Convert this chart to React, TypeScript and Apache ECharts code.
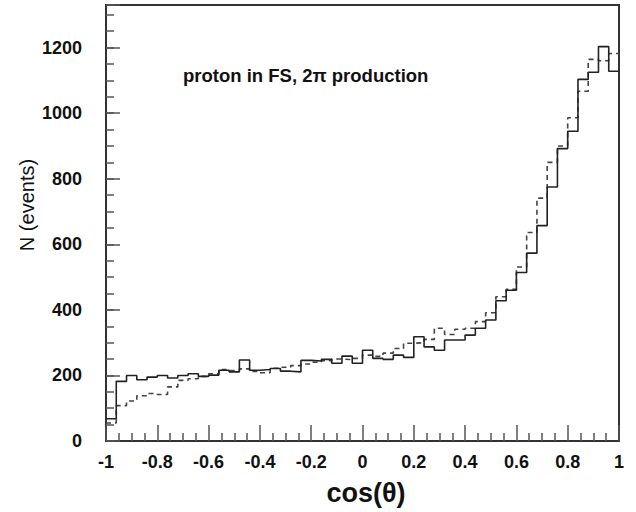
import React, { useEffect, useRef } from "react";
import * as echarts from "echarts";

const binEdges: number[] = Array.from({ length: 51 }, (_, i) => -1 + i * 0.04);

const solidCounts: number[] = [
  68, 182, 200, 187, 195, 200, 192, 200, 205, 197,
  201, 216, 211, 247, 216, 218, 221, 213, 211, 246,
  244, 249, 237, 259, 237, 277, 252, 249, 262, 255,
  318, 287, 277, 308, 308, 323, 344, 369, 428, 460,
  514, 573, 657, 775, 892, 945, 1103, 1125, 1203, 1128,
];

const dashedCounts: number[] = [
  55, 108, 122, 138, 145, 142, 165, 185, 190, 197,
  205, 218, 215, 220, 212, 208, 222, 225, 230, 235,
  240, 245, 250, 248, 252, 262, 258, 268, 282, 298,
  300, 310, 344, 325, 341, 344, 364, 391, 440, 463,
  531, 636, 741, 850, 900, 986, 1067, 1164, 1160, 1182,
];

const xTicks: number[] = [-1, -0.8, -0.6, -0.4, -0.2, 0, 0.2, 0.4, 0.6, 0.8, 1];
const yTicks: number[] = [0, 200, 400, 600, 800, 1000, 1200];

const annotation = "proton in FS, 2\u03c0 production";
const xTitle = "cos(\u03b8)";
const yTitle = "N (events)";

function stepData(counts: number[]): [number, number][] {
  const pts: [number, number][] = counts.map((v, i) => [binEdges[i], v]);
  pts.push([binEdges[binEdges.length - 1], counts[counts.length - 1]]);
  return pts;
}

const FONT = "'Liberation Sans', Arial, Helvetica, sans-serif";

export default function App() {
  const ref = useRef<HTMLDivElement>(null);
  useEffect(() => {
    if (!ref.current) return;
    const chart = echarts.init(ref.current, null, { renderer: "svg" });
    const grid = { left: 106, right: 17, top: 5, bottom: 71 };
    chart.setOption({
      animation: false,
      backgroundColor: "#fff",
      grid: { ...grid, show: true, borderColor: "#333", borderWidth: 2, backgroundColor: "transparent" },
      xAxis: [
        {
          type: "value",
          min: -1,
          max: 1,
          interval: 0.2,
          axisLine: { show: true, onZero: false, lineStyle: { color: "#333", width: 2 } },
          axisTick: { show: true, inside: true, length: 16, lineStyle: { color: "#555", width: 1.5 } },
          minorTick: { show: true, splitNumber: 4, length: 8, lineStyle: { color: "#555", width: 1.5 } },
          splitLine: { show: false },
          axisLabel: {
            show: true,
            margin: 12,
            fontFamily: FONT,
            fontWeight: "bold",
            fontSize: 18,
            color: "#111",
            showMaxLabel: true,
            showMinLabel: true,
            formatter: (v: number) => {
              const r = Math.round(v * 10) / 10;
              return xTicks.some((t) => Math.abs(t - r) < 1e-6) ? String(r) : "";
            },
          },
        },
      ],
      yAxis: [
        {
          type: "value",
          min: 0,
          max: 1330,
          interval: 200,
          axisLine: { show: true, onZero: false, lineStyle: { color: "#333", width: 2 } },
          axisTick: { show: true, inside: true, length: 14, lineStyle: { color: "#555", width: 1.5 } },
          splitLine: { show: false },
          axisLabel: {
            show: true,
            margin: 24,
            fontFamily: FONT,
            fontWeight: "bold",
            fontSize: 18,
            color: "#111",
            formatter: (v: number) => (yTicks.includes(Math.round(v)) ? String(Math.round(v)) : ""),
          },
        },
        {
          type: "value",
          position: "left",
          min: 0,
          max: 1330,
          interval: 50,
          axisLine: { show: false, onZero: false },
          axisTick: { show: true, inside: true, length: 8, lineStyle: { color: "#555", width: 1.5 } },
          splitLine: { show: false },
          axisLabel: { show: false },
        },
      ],
      series: [
        {
          type: "line",
          step: "end",
          showSymbol: false,
          data: stepData(solidCounts),
          lineStyle: { color: "#222", width: 1.6 },
          z: 3,
        },
        {
          type: "line",
          step: "end",
          showSymbol: false,
          data: stepData(dashedCounts),
          lineStyle: { color: "#444", width: 1.6, type: [5, 4] },
          z: 2,
        },
      ],
      graphic: [
        {
          type: "text",
          left: 183,
          top: 66,
          style: { text: annotation, font: `bold 18.5px ${FONT}`, fill: "#111" },
        },
        {
          type: "text",
          x: 366,
          y: 493,
          style: { text: xTitle, font: `bold 27px ${FONT}`, fill: "#111", align: "center", verticalAlign: "middle" },
        },
        {
          type: "text",
          x: 27,
          y: 205,
          rotation: Math.PI / 2,
          style: { text: yTitle, font: `20px ${FONT}`, fill: "#111", align: "center", verticalAlign: "middle" },
        },
      ],
    });
    return () => chart.dispose();
  }, []);
  return <div ref={ref} style={{ position: "fixed", left: 0, top: 0, width: 636, height: 512 }} />;
}
